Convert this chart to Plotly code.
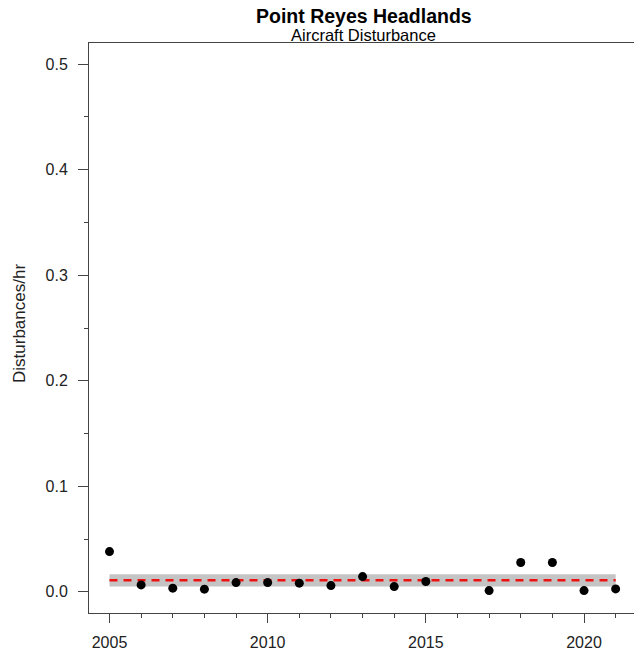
import plotly.graph_objects as go

# Annual aircraft disturbance rates at Point Reyes Headlands
years = [2005, 2006, 2007, 2008, 2009, 2010, 2011, 2012, 2013, 2014, 2015,
         2017, 2018, 2019, 2020, 2021]
rates = [0.0382, 0.0066, 0.0035, 0.0026, 0.0088, 0.0088, 0.0083, 0.0060,
         0.0145, 0.0050, 0.0098, 0.0012, 0.0278, 0.0278, 0.0012, 0.0028]

# Long-term mean and its confidence band
band_years = [2005, 2021]
mean_rate = 0.0111
band_low = 0.0050
band_high = 0.0168

FONT = "Arial, Liberation Sans, sans-serif"
AXIS_COLOR = "#444444"

fig = go.Figure()

fig.add_trace(go.Scatter(
    x=band_years + band_years[::-1],
    y=[band_high, band_high, band_low, band_low],
    fill="toself", fillcolor="#c4c4c4", line=dict(width=0),
    mode="lines", hoverinfo="skip", showlegend=False,
))
fig.add_trace(go.Scatter(
    x=band_years, y=[mean_rate, mean_rate], mode="lines",
    line=dict(color="#ee1111", width=2.5, dash="8px,6px"),
    showlegend=False,
))
fig.add_trace(go.Scatter(
    x=years, y=rates, mode="markers",
    marker=dict(color="black", size=9),
    showlegend=False,
))

fig.update_layout(
    width=634, height=659,
    margin=dict(l=89, r=0, t=43, b=46),
    paper_bgcolor="white", plot_bgcolor="white",
    font=dict(family=FONT, size=16, color="#222222"),
    annotations=[
        dict(text="<b>Point Reyes Headlands</b>", x=(363.5 - 89) / 545,
             xref="paper", y=1 + 27 / 570, yref="paper", yanchor="middle",
             showarrow=False,
             font=dict(size=19.5, color="black", family=FONT)),
        dict(text="Aircraft Disturbance", x=(363.5 - 89) / 545,
             xref="paper", y=1 + 8 / 570, yref="paper", yanchor="middle",
             showarrow=False,
             font=dict(size=16.5, color="black", family=FONT)),
        dict(text="Disturbances/hr", textangle=-90, x=-70 / 545, xref="paper",
             xanchor="center", y=1 - (324 - 43) / 570, yref="paper",
             yanchor="middle", showarrow=False,
             font=dict(size=17, color="#222222", family=FONT)),
    ],
)

fig.update_xaxes(
    range=[2004.352, 2021.58], showgrid=False, zeroline=False,
    showline=True, linecolor=AXIS_COLOR, linewidth=1, mirror=True,
    tickmode="array", tickvals=[2005, 2010, 2015, 2020],
    ticks="outside", ticklen=9, tickcolor=AXIS_COLOR, tickwidth=1,
    minor=dict(dtick=1, tick0=2005, ticks="outside", ticklen=4,
               tickcolor=AXIS_COLOR, showgrid=False),
    ticklabelstandoff=6,
)
fig.update_yaxes(
    range=[-0.02, 0.52], showgrid=False, zeroline=False,
    showline=True, linecolor=AXIS_COLOR, linewidth=1,
    tickmode="array", tickvals=[0, 0.1, 0.2, 0.3, 0.4, 0.5],
    ticktext=["0.0", "0.1", "0.2", "0.3", "0.4", "0.5"],
    ticks="outside", ticklen=10, tickcolor=AXIS_COLOR, tickwidth=1,
    minor=dict(dtick=0.05, tick0=0, ticks="outside", ticklen=4,
               tickcolor=AXIS_COLOR, showgrid=False),
    ticklabelstandoff=7,
)

fig.write_html("out.html")
